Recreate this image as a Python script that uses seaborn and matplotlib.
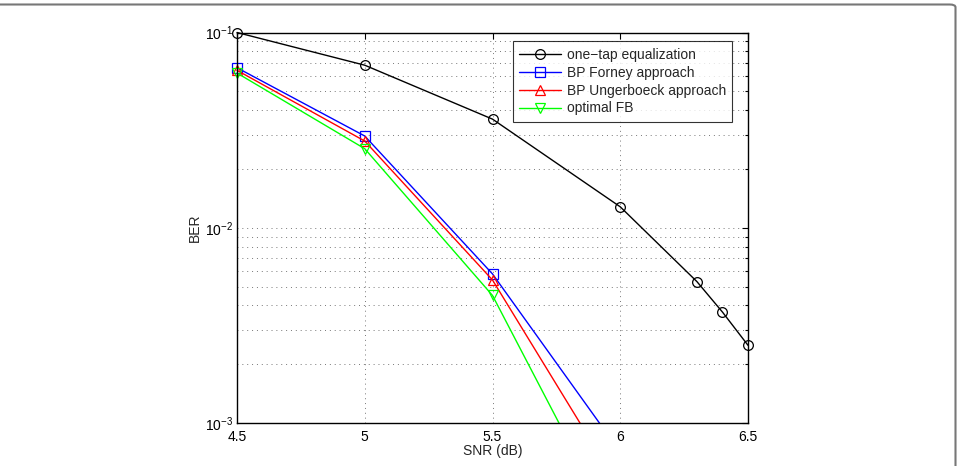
import matplotlib
matplotlib.use("Agg")
import matplotlib.pyplot as plt
from matplotlib.patches import FancyBboxPatch, Rectangle
from matplotlib.ticker import FixedLocator, LogLocator, NullFormatter
import numpy as np
import pandas as pd
import seaborn as sns

# SNR points (dB)
snr_onetap = [4.5, 5.0, 5.5, 6.0, 6.3, 6.4, 6.5]
ber_onetap = [0.1, 0.068, 0.036, 0.0128, 0.0053, 0.0037, 0.0025]

snr_bp = [4.5, 5.0, 5.5, 6.0]
ber_forney = [0.066, 0.0295, 0.0058, 0.00071]
ber_ungerboeck = [0.064, 0.0278, 0.0054, 0.00046]
ber_optimal = [0.062, 0.0254, 0.0045, 0.00025]

labels = ["one\u2212tap equalization", "BP Forney approach",
          "BP Ungerboeck approach", "optimal FB"]
x_ticks = [4.5, 5, 5.5, 6, 6.5]

sns.set_style("white")
plt.rcParams["font.family"] = ["Liberation Sans", "DejaVu Sans"]
plt.rcParams["mathtext.fontset"] = "custom"
plt.rcParams["mathtext.rm"] = "Liberation Sans"
plt.rcParams["mathtext.it"] = "Liberation Sans"
plt.rcParams["mathtext.default"] = "regular"
fs = 10

fig = plt.figure(figsize=(9.62, 4.66), dpi=100)
ax = fig.add_axes([237 / 962, 1 - 423 / 466, 511 / 962, 390.5 / 466])

series = [
    (snr_onetap, ber_onetap, "black", "o"),
    (snr_bp, ber_forney, "#0000ff", "s"),
    (snr_bp, ber_ungerboeck, "#ff0000", "^"),
    (snr_bp, ber_optimal, "#00ff00", "v"),
]
for (x, y, c, m), lab in zip(series, labels):
    df = pd.DataFrame({"SNR": x, "BER": y})
    sns.lineplot(data=df, x="SNR", y="BER", ax=ax, color=c, marker=m,
                 markersize=7, markerfacecolor="none", markeredgecolor=c,
                 markeredgewidth=0.9, linewidth=1.0, label=lab)

# let edge markers show, but keep clipping at the bottom
clip = Rectangle((-0.05, 0), 1.1, 1.05, transform=ax.transAxes)
for ln in ax.get_lines():
    ln.set_clip_path(clip)

ax.set_yscale("log")
ax.set_xlim(4.5, 6.5)
ax.set_ylim(1e-3, 1e-1)
ax.xaxis.set_major_locator(FixedLocator(x_ticks))
ax.set_xticklabels([str(t) for t in x_ticks])
ax.yaxis.set_major_locator(LogLocator(base=10, numticks=10))
ax.yaxis.set_minor_locator(LogLocator(base=10, subs=np.arange(2, 10), numticks=20))
ax.yaxis.set_minor_formatter(NullFormatter())

ax.grid(True, which="major", linestyle=(0, (1, 4)), color="#777777", linewidth=0.7)
ax.grid(True, which="minor", axis="y", linestyle=(0, (1, 4)), color="#777777", linewidth=0.7)
ax.tick_params(which="both", direction="in", top=True, right=True,
               length=4, width=0.8, colors="black", labelsize=fs)
ax.tick_params(which="minor", length=2)
ax.tick_params(axis="x", pad=5)
ax.tick_params(axis="y", pad=3)
for s in ax.spines.values():
    s.set_visible(True)
    s.set_color("black")
    s.set_linewidth(1.0)

ax.set_xlabel("SNR (dB)", fontsize=fs, labelpad=0)
ax.set_ylabel("BER", fontsize=fs, labelpad=2)

leg = ax.legend(loc="upper right", bbox_to_anchor=(0.969, 0.977), fontsize=fs,
                frameon=True, fancybox=False, edgecolor="black",
                handlelength=3.0, borderpad=0.45, labelspacing=0.28,
                handletextpad=0.4, borderaxespad=0)
leg.get_frame().set_linewidth(0.8)

# light frame around the figure
fig.patches.append(FancyBboxPatch((-0.2, -0.2), 0.2 + 955.5 / 962, 0.2 + 1 - 4.5 / 466,
                                  boxstyle="round,pad=0,rounding_size=0.006",
                                  transform=fig.transFigure, fill=False,
                                  edgecolor="#777777", linewidth=1.5))

fig.savefig("out.png", dpi=100)
